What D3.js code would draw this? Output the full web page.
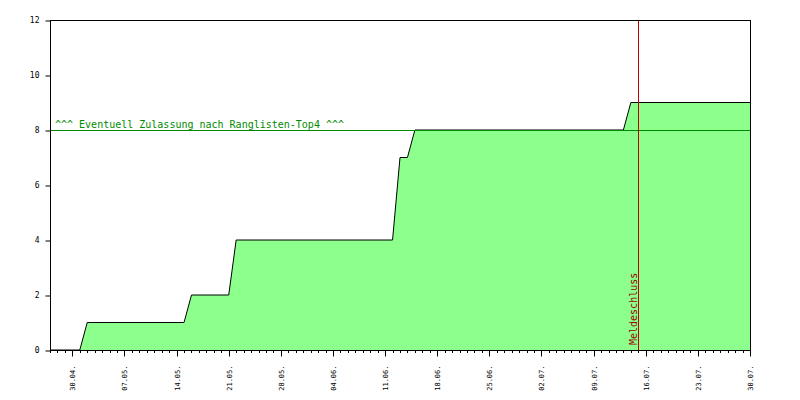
<!DOCTYPE html>
<html>
<head>
<meta charset="utf-8">
<script src="https://cdn.jsdelivr.net/npm/d3@7"></script>
<style>
body { margin: 0; background: #fff; }
svg { display: block; }
</style>
</head>
<body>
<svg width="800" height="400"></svg>
<script>
var svg = d3.select("svg"),
	margin = {top: 20, right: 50, bottom: 50, left: 50},
	width = +svg.attr("width") - margin.left - margin.right,
	height = +svg.attr("height") - margin.top - margin.bottom;

// meldungen (datum, anzahl)
let dates = ["27.04", "01.05", "02.05", "15.05", "16.05", "21.05", "22.05", "12.06",
	"13.06", "14.06", "15.06", "13.07", "14.07", "30.07"];
let counts = [0, 0, 1, 1, 2, 2, 4, 4, 7, 7, 8, 8, 9, 9];

let y_ticks = [0, 2, 4, 6, 8, 10, 12];
let x_tick_dates = ["30.04", "07.05", "14.05", "21.05", "28.05", "04.06", "11.06",
	"18.06", "25.06", "02.07", "09.07", "16.07", "23.07", "30.07"];

let limit_value = 8;
let limit_label = "^^^ Eventuell Zulassung nach Ranglisten-Top4 ^^^";
let deadline_date = "15.07";
let deadline_label = "Meldeschluss";

let domain_dates = ["27.04", "30.07"];
let y_max = 12;

function parse_date(s) {
	let p = s.split(".");
	return new Date(Date.UTC(2012, +p[1] - 1, +p[0]));
}

let data = dates.map(function(d, i) { return [parse_date(d), counts[i]]; });

var x = d3.scaleUtc()
	.domain(domain_dates.map(parse_date))
	.range([0, width]);

var y = d3.scaleLinear()
	.domain([0, y_max])
	.range([height, 0]);

var focus = svg.append("g")
	.attr("transform", "translate(" + margin.left + "," + margin.top + ")");

var area = d3.area()
	.x(function(d) { return x(d[0]); })
	.y0(height)
	.y1(function(d) { return y(d[1]); });

var line = d3.line()
	.x(function(d) { return x(d[0]); })
	.y(function(d) { return y(d[1]); });

focus.append("path")
	.datum(data)
	.attr("fill", "#8cff8c")
	.attr("d", area);

focus.append("path")
	.datum(data)
	.attr("fill", "none")
	.attr("stroke", "black")
	.attr("stroke-width", 1)
	.attr("d", line);

// ranglisten grenze
focus.append("line")
	.attr("x1", 0)
	.attr("x2", width)
	.attr("y1", y(limit_value) + 0.5)
	.attr("y2", y(limit_value) + 0.5)
	.attr("stroke", "#008c00")
	.attr("stroke-width", 1);

focus.append("text")
	.attr("x", 5)
	.attr("y", y(limit_value) - 2.5)
	.attr("fill", "#008c00")
	.style("font-family", "DejaVu Sans Mono")
	.style("font-size", "10px")
	.text(limit_label);

// meldeschluss
let dx = Math.round(x(parse_date(deadline_date))) + 0.5;
focus.append("line")
	.attr("x1", dx)
	.attr("x2", dx)
	.attr("y1", 0)
	.attr("y2", height)
	.attr("stroke", "#c00000")
	.attr("stroke-width", 1);

focus.append("text")
	.attr("transform", "translate(" + (dx - 2) + "," + (height - 5) + ") rotate(-90)")
	.attr("fill", "#a00000")
	.style("font-family", "DejaVu Sans Mono")
	.style("font-size", "10px")
	.text(deadline_label);

// rahmen
focus.append("rect")
	.attr("x", 0.5)
	.attr("y", 0.5)
	.attr("width", width)
	.attr("height", height)
	.attr("fill", "none")
	.attr("stroke", "black")
	.attr("stroke-width", 1);

// y achse
let yAxis = d3.axisLeft(y)
	.tickValues(y_ticks)
	.tickSize(5)
	.tickPadding(6)
	.tickFormat(d3.format("d"));

focus.append("g")
	.attr("class", "axis axis--y")
	.attr("transform", "translate(0.5,0)")
	.call(yAxis)
	.call(function(g) {
		g.select(".domain").remove();
		g.selectAll("line").attr("transform", "translate(0,0.5)");
		g.selectAll("text")
			.style("font-family", "DejaVu Sans Mono")
			.style("font-size", "8px");
	});

// x achse: tages-ticks und wochen-labels
let minor = d3.utcDay.range(x.domain()[0], d3.utcDay.offset(x.domain()[1], 1));

focus.append("g")
	.attr("transform", "translate(0," + height + ")")
	.selectAll("line")
	.data(minor)
	.enter()
	.append("line")
	.attr("x1", function(d) { return Math.round(x(d)) + 0.5; })
	.attr("x2", function(d) { return Math.round(x(d)) + 0.5; })
	.attr("y1", 0)
	.attr("y2", 3)
	.attr("stroke", "black");

let xAxis = d3.axisBottom(x)
	.tickValues(x_tick_dates.map(parse_date))
	.tickSize(6)
	.tickFormat(function(d) { return d3.utcFormat("%d.%m.")(d); });

focus.append("g")
	.attr("class", "axis axis--x")
	.attr("transform", "translate(0," + (height + 0.5) + ")")
	.call(xAxis)
	.call(function(g) {
		g.select(".domain").remove();
		g.selectAll(".tick").attr("transform", function(d) {
			return "translate(" + (Math.round(x(d)) + 0.5) + ",0)";
		});
		g.selectAll("text")
			.attr("transform", "rotate(-90)")
			.attr("x", -15)
			.attr("y", 0)
			.attr("dy", "0.35em")
			.style("text-anchor", "end")
			.style("font-family", "DejaVu Sans Mono")
			.style("font-size", "7px");
	});
</script>
</body>
</html>
